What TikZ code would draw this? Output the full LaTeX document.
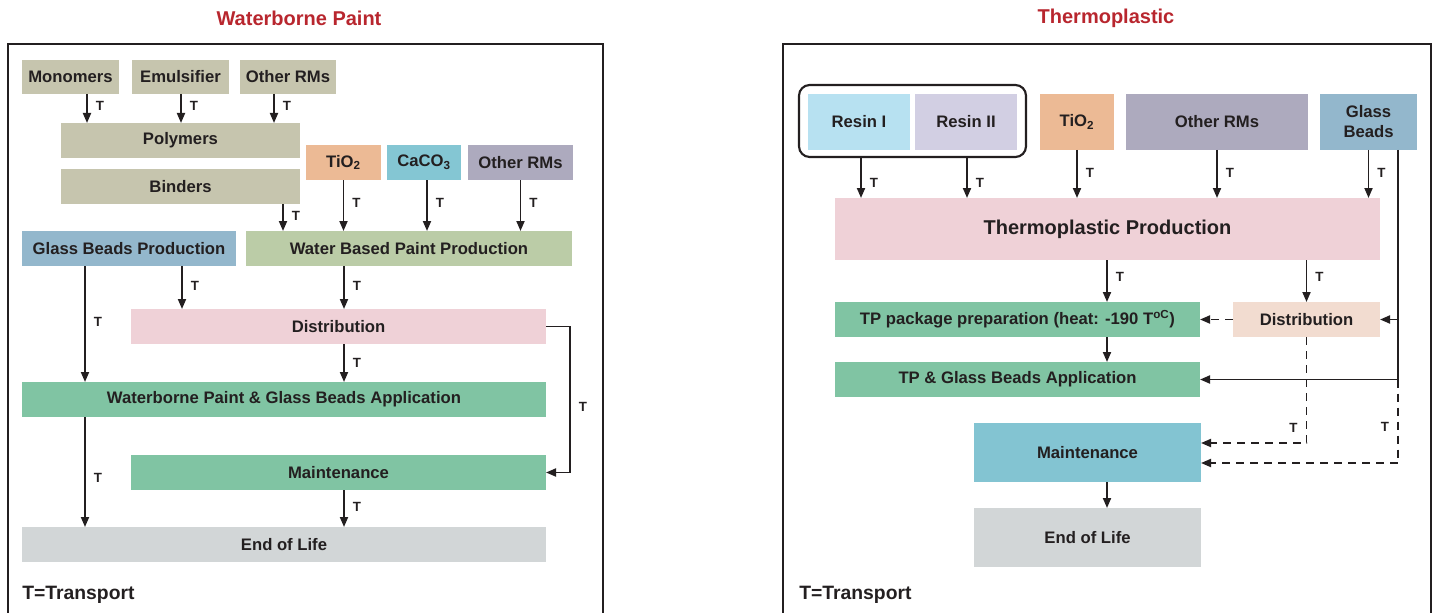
\documentclass[tikz,border=0pt]{standalone}
\usepackage{fontspec}
\setmainfont{Liberation Sans}
\usetikzlibrary{arrows.meta}
\definecolor{txt}{HTML}{231F20}
\definecolor{ttlred}{HTML}{B8262E}
\definecolor{khaki}{HTML}{C6C5AE}
\definecolor{peach}{HTML}{ECBA95}
\definecolor{cyanb}{HTML}{84C6D3}
\definecolor{lav}{HTML}{ADAABE}
\definecolor{gblue}{HTML}{93B7CC}
\definecolor{lgreen}{HTML}{BBCCA7}
\definecolor{pinkb}{HTML}{EFD1D7}
\definecolor{greenb}{HTML}{80C4A3}
\definecolor{greyb}{HTML}{D2D6D7}
\definecolor{resinA}{HTML}{B7E1F1}
\definecolor{resinB}{HTML}{D2CFE3}
\definecolor{peachb}{HTML}{F2DCD0}
\definecolor{tealb}{HTML}{83C4D2}
\newcommand{\mybox}[7]{\node[box,#2,minimum width={(#5-#3)*0.75pt},minimum height={(#6-#4)*0.75pt}] (#1) at ({(#3+#5)/2},{(#4+#6)/2}) {#7};}
\begin{document}
\begin{tikzpicture}[x=0.75pt,y=-0.75pt,
  box/.style={draw=none,inner sep=0pt,outer sep=0pt,text=txt,align=center,
    font=\bfseries\fontsize{12.5}{15}\selectfont},
  arr/.style={line width=1.4pt,draw=txt,-{Triangle[length=7.5pt,width=6pt]}},
  dsh/.style={arr,dash pattern=on 6pt off 4.5pt},
  ln/.style={line width=1.4pt,draw=txt},
  frame/.style={line width=1.6pt,draw=txt},
  tlab/.style={font=\bfseries\fontsize{10}{12}\selectfont,text=txt,inner sep=0pt,anchor=west,xshift=6pt},
  tlabl/.style={font=\bfseries\fontsize{10}{12}\selectfont,text=txt,inner sep=0pt,anchor=east,xshift=-6pt},
  ttl/.style={font=\bfseries\fontsize{15}{18}\selectfont,text=ttlred,inner sep=0pt},
  legend/.style={font=\bfseries\fontsize{14.5}{17}\selectfont,text=txt,inner sep=0pt,anchor=west}]
\useasboundingbox (0,0) rectangle (1433,613);
% column / row helper coordinates
\foreach \c in {85,87,181,182,274,283,344,427,570,861,967,1107,1398}{\coordinate (x\c) at (\c,0);}
\coordinate (y443) at (0,443);
\coordinate (y463) at (0,463);
% titles
\node[ttl] (t1) at (299,18) {Waterborne Paint};
\node[ttl] (t2) at (1106,18) {Thermoplastic};
% frames
\draw[frame] (8,614) -- (8,44) -- (603,44) -- (603,614);
\draw[frame] (783,614) -- (783,44) -- (1431,44) -- (1431,614);
% ---------------- left panel ----------------
\mybox{mono}{fill=khaki}{22}{60}{119}{94}{Monomers}
\mybox{emul}{fill=khaki}{132}{60}{229}{94}{Emulsifier}
\mybox{ormA}{fill=khaki}{240}{60}{336}{94}{Other RMs}
\mybox{poly}{fill=khaki}{61}{123}{300}{158}{Polymers}
\mybox{bind}{fill=khaki}{61}{169}{300}{204}{Binders}
\mybox{tioA}{fill=peach}{306}{145}{381}{180}{TiO\textsubscript{2}}
\mybox{caco}{fill=cyanb}{387}{145}{461}{180}{CaCO\textsubscript{3}}
\mybox{ormB}{fill=lav}{468}{145}{573}{180}{Other RMs}
\mybox{gbp}{fill=gblue}{22}{231}{236}{266}{Glass Beads Production}
\mybox{wbpp}{fill=lgreen}{246}{231}{572}{266}{Water Based Paint Production}
\mybox{distA}{fill=pinkb}{131}{309}{546}{344}{Distribution}
\mybox{appA}{fill=greenb}{22}{382}{546}{417}{Waterborne Paint \& Glass Beads Application}
\mybox{mntA}{fill=greenb}{131}{455}{546}{490}{Maintenance}
\mybox{eolA}{fill=greyb}{22}{527}{546}{562}{End of Life}
\node[legend] (legA) at (22,595) {T=Transport};
\draw[arr] (mono.south -| x87) -- (poly.north -| x87) node[tlab,pos=.4]{T};
\draw[arr] (emul.south -| x181) -- (poly.north -| x181) node[tlab,pos=.4]{T};
\draw[arr] (ormA.south -| x274) -- (poly.north -| x274) node[tlab,pos=.4]{T};
\draw[arr] (bind.south -| x283) -- (wbpp.north -| x283) node[tlab,pos=.45]{T};
\draw[arr] (tioA.south) -- (tioA.south |- wbpp.north) node[tlab,pos=.45]{T};
\draw[arr] (caco.south -| x427) -- (wbpp.north -| x427) node[tlab,pos=.45]{T};
\draw[arr] (ormB.south) -- (ormB.south |- wbpp.north) node[tlab,pos=.45]{T};
\draw[arr] (gbp.south -| x182) -- (distA.north -| x182) node[tlab,pos=.46]{T};
\draw[arr] (wbpp.south -| x344) -- (distA.north -| x344) node[tlab,pos=.46]{T};
\draw[arr] (gbp.south -| x85) -- (appA.north -| x85) node[tlab,pos=.48]{T};
\draw[arr] (distA.south -| x344) -- (appA.north -| x344) node[tlab,pos=.5]{T};
\draw[arr] (appA.south -| x85) -- (eolA.north -| x85) node[tlab,pos=.55]{T};
\draw[arr] (mntA.south -| x344) -- (eolA.north -| x344) node[tlab,pos=.46]{T};
\draw[arr] (distA.east) -- (distA.east -| x570) -- (mntA.east -| x570) node[tlab,pos=.55]{T} -- (mntA.east);
% ---------------- right panel ----------------
\mybox{grp}{draw=txt,line width=1.6pt,rounded corners=8pt}{799}{85}{1026}{157}{}
\mybox{resA}{fill=resinA}{808}{94}{910}{150}{Resin I}
\mybox{resB}{fill=resinB}{915}{94}{1017}{150}{Resin II}
\mybox{tioB}{fill=peach}{1040}{94}{1114}{150}{TiO\textsubscript{2}}
\mybox{ormC}{fill=lav}{1126}{94}{1308}{150}{Other RMs}
\mybox{gb}{fill=gblue}{1320}{94}{1417}{150}{Glass\\Beads}
\mybox{tpp}{fill=pinkb,font=\bfseries\fontsize{15}{18}\selectfont}{835}{198}{1380}{260}{Thermoplastic Production}
\mybox{pkg}{fill=greenb}{835}{302}{1200}{337}{TP package preparation (heat: -190 T\textsuperscript{oC})}
\mybox{distB}{fill=peachb}{1233}{302}{1380}{337}{Distribution}
\mybox{appB}{fill=greenb}{835}{362}{1200}{397}{TP \& Glass Beads Application}
\mybox{mntB}{fill=tealb}{974}{423}{1201}{482}{Maintenance}
\mybox{eolB}{fill=greyb}{974}{508}{1201}{567}{End of Life}
\node[legend] (legB) at (799,595) {T=Transport};
\draw[arr] (grp.south -| x861) -- (tpp.north -| x861) node[tlab,pos=.63]{T};
\draw[arr] (grp.south -| x967) -- (tpp.north -| x967) node[tlab,pos=.63]{T};
\draw[arr] (tioB.south) -- (tioB.south |- tpp.north) node[tlab,pos=.48]{T};
\draw[arr] (ormC.south) -- (ormC.south |- tpp.north) node[tlab,pos=.48]{T};
\draw[arr] (gb.south) -- (gb.south |- tpp.north) node[tlab,pos=.48]{T};
\draw[arr] (gb.south -| x1398) -- (appB.east -| x1398) -- (appB.east);
\draw[arr] (tpp.south -| x1107) -- (pkg.north -| x1107) node[tlab,pos=.4]{T};
\draw[arr] (distB.north |- tpp.south) -- (distB.north) node[tlab,pos=.4]{T};
\draw[dsh] (distB.west) -- (pkg.east);
\draw[dsh] (distB.east -| x1398) -- (distB.east);
\draw[arr] (pkg.south -| x1107) -- (appB.north -| x1107);
\draw[dsh] (distB.south) -- (distB.south |- y443) node[tlabl,pos=.86]{T} -- (mntB.east |- y443);
\draw[dsh] (appB.east -| x1398) -- (x1398 |- y463) node[tlabl,pos=.57]{T} -- (mntB.east |- y463);
\draw[arr] (mntB.south -| x1107) -- (eolB.north -| x1107);
\end{tikzpicture}
\end{document}
